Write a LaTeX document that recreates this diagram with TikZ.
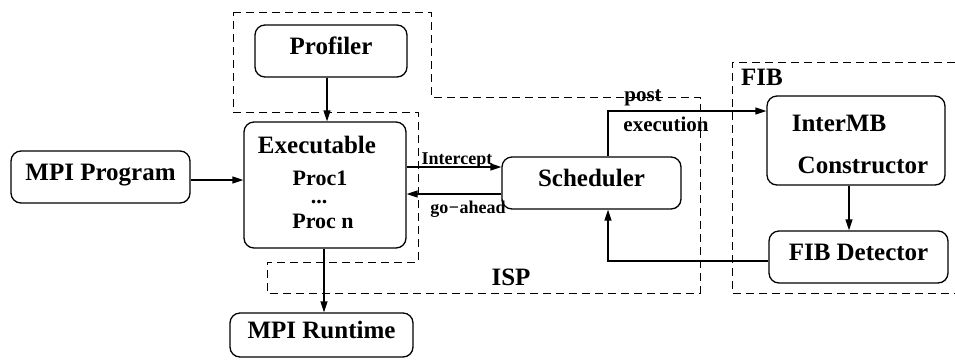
\documentclass[tikz,border=0pt]{standalone}
\usepackage{fontspec}
\setmainfont{Liberation Serif}
\usetikzlibrary{arrows.meta}

\tikzset{
  box/.style={draw, line width=1.3pt, rounded corners=10pt, inner sep=0pt,
    font=\fontsize{25}{28}\selectfont\bfseries, text height=.68em, text depth=0pt},
  txt/.style={anchor=base, inner sep=0pt, font=\fontsize{25}{28}\selectfont\bfseries},
  proc/.style={anchor=base, inner sep=0pt, font=\fontsize{22}{24}\selectfont\bfseries},
  mid/.style={anchor=base, inner sep=0pt, font=\fontsize{21}{24}\selectfont\bfseries},
  small/.style={anchor=base, inner sep=0pt, font=\fontsize{18}{20}\selectfont\bfseries},
  conn/.style={line width=1.3pt, -{Triangle[length=11pt,width=7pt]}},
  region/.style={line width=0.9pt, dash pattern=on 8pt off 5pt},
}

\begin{document}
\begin{tikzpicture}[x=1pt, y=-1pt]
\useasboundingbox (0,0) rectangle (955,360);

% dashed groupings
\draw[region] (233,12) -- (431,12) -- (431,97) -- (700,97) -- (700,293)
  -- (267,293) -- (267,262) -- (418,262) -- (418,112) -- (233,112) -- cycle;
\draw[region] (955,62) -- (732,62) -- (732,293) -- (955,293);

% boxes
\node[box, minimum width=152pt, minimum height=52pt] (prof) at (331,51) {Profiler};
\node[box, minimum width=162pt, minimum height=126pt] (exe) at (325,185) {};
\node[box, minimum width=179pt, minimum height=52pt] (sched) at (591.5,183) {Scheduler};
\node[box, minimum width=179pt, minimum height=52pt] (mpip) at (100.5,177) {MPI Program};
\node[box, minimum width=183pt, minimum height=44pt] (mpir) at (321.5,335) {MPI Runtime};
\node[box, minimum width=178pt, minimum height=89pt] (inter) at (856,140.5) {};
\node[box, minimum width=179pt, minimum height=52pt] (fibd) at (858.5,257) {FIB Detector};

% texts inside the executable and constructor boxes
\node[txt] (exet) at (317,153) {Executable};
\node[proc] (p1) at (320,185) {Proc1};
\node[proc, font=\fontsize{22}{24}\selectfont\bfseries] (pd) at (319,203) {...};
\node[proc] (pn) at (323,228) {Proc n};
\node[txt] (intt) at (839,131.5) {InterMB};
\node[txt] (cons) at (863,173) {Constructor};

% region labels
\node[txt] (isp) at (511,285) {ISP};
\node[txt] (fib) at (762,85) {FIB};

% connectors
\draw[conn] (mpip.east |- 0,180) -- (exe.west |- 0,180);
\draw[conn] (prof.south -| 327,0) -- (exe.north -| 327,0);
\draw[conn] (exe.east |- 0,167) -- (sched.west |- 0,167);
\draw[conn] (sched.west |- 0,194) -- (exe.east |- 0,194);
\draw[conn] (exe.south -| 324,0) -- (mpir.north -| 324,0);
\draw[conn] (sched.north -| 608,0) |- (inter.west |- 0,111);
\draw[conn] (inter.south -| 849,0) -- (fibd.north -| 849,0);
\draw[conn] (fibd.west |- 0,261) -| (sched.south -| 608,0);

% connector labels
\node[small] (lint) at (457,164) {Intercept};
\node[small] (lgo) at (468,213) {go\kern0.5pt−\kern0.5pt ahead};
\node[mid] (lpost) at (643,101) {post};
\node[mid] (lexec) at (666,131.5) {execution};
\end{tikzpicture}
\end{document}
